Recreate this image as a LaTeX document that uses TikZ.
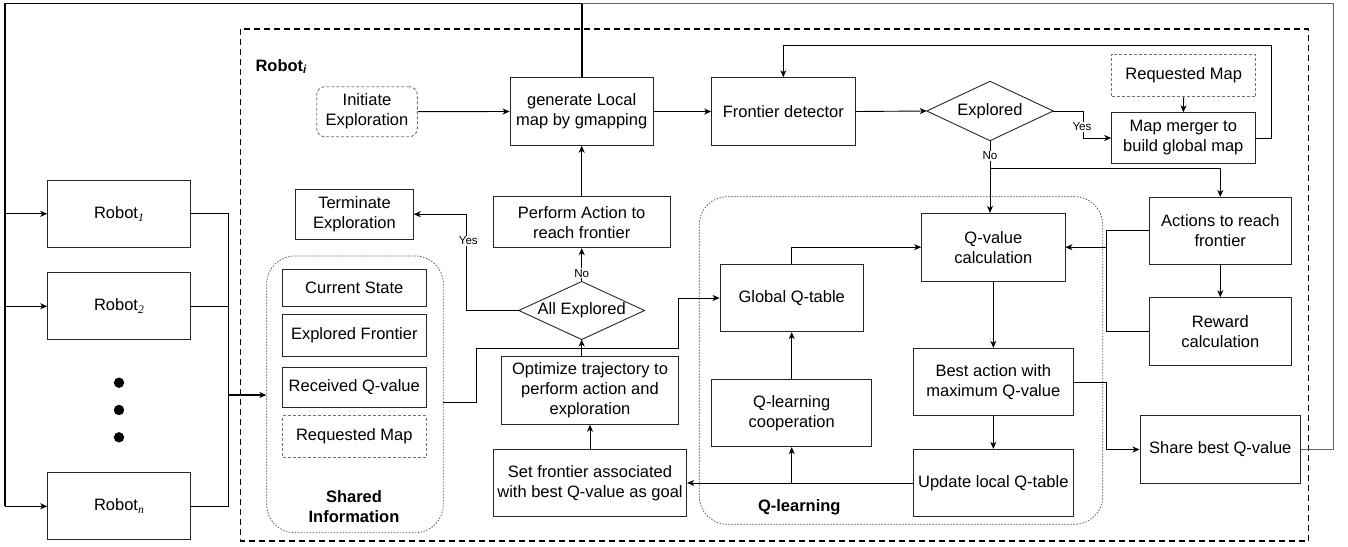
\documentclass[tikz,border=0pt]{standalone}
\usepackage{fontspec}
\setmainfont{Liberation Sans}
\newfontfamily\subserif{Liberation Serif}
\usetikzlibrary{arrows.meta,shapes.geometric,calc}
\tikzset{
  box/.style={draw=black!85, line width=0.9pt, inner sep=1pt, align=center, font=\fontsize{16.5}{20}\selectfont},
  dbox/.style={box, draw=black!55, dash pattern=on 3pt off 2pt},
  dia/.style={inner sep=0pt, align=center, font=\fontsize{16.5}{20}\selectfont},
  diaedge/.style={draw=black!85, line width=0.9pt},
  cont/.style={draw=black!70, line width=0.7pt, dash pattern=on 1.5pt off 1.5pt, rounded corners=28pt},
  conn/.style={line width=0.9pt, black},
  arr/.style={conn, -{Stealth[length=7pt,width=6pt,inset=2pt]}},
  lbl/.style={font=\fontsize{11.6}{13}\selectfont, fill=white, inner sep=1pt},
  ttl/.style={font=\bfseries\fontsize{16.5}{20}\selectfont, align=center},
}
\newcommand{\rsub}[1]{\textsubscript{\subserif\itshape #1}}
\begin{document}
\begin{tikzpicture}[x=1pt,y=-1pt]
\useasboundingbox (0,0) rectangle (1348,546);
% containers
\draw[line width=1.5pt, dash pattern=on 6pt off 4pt] (240.7,29) rectangle (1308.3,541);
\node[anchor=west, font=\bfseries\fontsize{16.5}{20}\selectfont] (rti) at (252,66.7) {Robot\textsubscript{\itshape i}};
\node[cont, minimum width=176.6pt, minimum height=276.7pt] (shared) at (355,394.3) {};
\node[cont, minimum width=403.4pt, minimum height=327.6pt] (qlc) at (901,360.5) {};
\node[ttl] (sharedlbl) at (354,507) {Shared\\Information};
\node[ttl] (qllbl) at (799.3,507.3) {Q-learning};
% robots
\node[box, minimum width=143pt, minimum height=67pt] (r1) at (119.2,213.8) {Robot\rsub{1}};
\node[box, minimum width=143pt, minimum height=67pt] (r2) at (119.2,306.3) {Robot\rsub{2}};
\node[box, minimum width=143pt, minimum height=67pt] (rn) at (119.2,506.3) {Robot\rsub{n}};
\fill (119,382.7) circle (5.2pt) (119,410) circle (5.2pt) (119,437.3) circle (5.2pt);
% nodes
\node[dbox, rounded corners=8pt, minimum width=100.6pt, minimum height=50pt] (init) at (367,111.7) {Initiate\\Exploration};
\node[box, minimum width=143.3pt, minimum height=67.6pt] (gen) at (581.7,111.5) {generate Local\\map by gmapping};
\node[box, minimum width=143.3pt, minimum height=67.6pt] (fd) at (783.3,111.5) {Frontier detector};
\node[dia, minimum width=126pt, minimum height=59pt] (expl) at (990,111) {Explored};
\draw[diaedge] (expl.west) -- (expl.north) -- (expl.east) -- (expl.south) -- cycle;
\node[dbox, minimum width=144pt, minimum height=42.7pt] (req1) at (1183.7,75.3) {Requested Map};
\node[box, minimum width=143.3pt, minimum height=50.6pt] (mm) at (1183.3,138) {Map merger to\\build global map};
\node[box, minimum width=117.6pt, minimum height=50.3pt] (term) at (354.5,214.2) {Terminate\\Exploration};
\node[box, minimum width=176.7pt, minimum height=51pt] (perf) at (581.7,222.2) {Perform Action to\\reach frontier};
\node[dia, minimum width=125.3pt, minimum height=57.6pt] (alld) at (581.7,310.5) {All Explored};
\draw[diaedge] (alld.west) -- (alld.north) -- (alld.east) -- (alld.south) -- cycle;
\node[box, minimum width=176.6pt, minimum height=67.6pt] (opt) at (590,390.5) {Optimize trajectory to\\perform action and\\exploration};
\node[box, minimum width=193.4pt, minimum height=67.4pt] (setf) at (590,483) {Set frontier associated\\with best Q-value as goal};
\node[box, minimum width=143.3pt, minimum height=67.4pt] (gq) at (791.7,298) {Global Q-table};
\node[box, minimum width=160pt, minimum height=67.4pt] (qc) at (791.7,413) {Q-learning\\cooperation};
\node[box, minimum width=143.3pt, minimum height=67.7pt] (qv) at (993.3,247.2) {Q-value\\calculation};
\node[box, minimum width=160pt, minimum height=67.4pt] (best) at (993.3,382) {Best action with\\maximum Q-value};
\node[box, minimum width=160pt, minimum height=67.4pt] (upd) at (993.3,483) {Update local Q-table};
\node[box, minimum width=142.7pt, minimum height=66.7pt] (act) at (1220.3,230.7) {Actions to reach\\frontier};
\node[box, minimum width=142.7pt, minimum height=67.3pt] (rew) at (1220.3,331.3) {Reward\\calculation};
\node[box, minimum width=160.7pt, minimum height=67.6pt] (share) at (1220.3,449.5) {Share best Q-value};
% shared info boxes
\node[box, minimum width=143.3pt, minimum height=37.7pt] (cs) at (354.3,287.8) {Current State};
\node[box, minimum width=143.3pt, minimum height=42pt] (ef) at (354.3,335.7) {Explored Frontier};
\node[box, minimum width=143.3pt, minimum height=40pt] (rq) at (354.3,387.3) {Received Q-value};
\node[dbox, minimum width=143.3pt, minimum height=41.6pt] (req2) at (354.3,436.5) {Requested Map};
% coordinates
\coordinate (topL) at (5,3.5);
\coordinate (topM) at (581.7,3.5);
\coordinate (topR) at (1333.3,3.5);
\coordinate (bus) at (228.3,395);
% connectors
\draw[arr] (init.east) -- (gen.west);
\draw[arr] (gen.east) -- (fd.west);
\draw[arr] (fd.east) -- (expl.west);
\draw[arr] (expl.east) -- ++(30,0) |- (mm.west);
\node[lbl] (yes1) at (1082,127) {Yes};
\draw[arr] (req1.south) -- (mm.north);
\draw[arr] (mm.east) -- ++(16.4,0) |- (783.3,45.7) -- (fd.north);
\draw[arr] (expl.south) -- (expl.south |- qv.north);
\node[lbl] (no1) at (990,156) {No};
\draw[arr] (990,168.3) -| (act.north);
\draw[arr] (act.south) -- (rew.north);
\draw[conn] (act.west) -| (1106.7,331.3) -- (rew.west);
\draw[arr] (1106.7,247.2) -- (qv.east);
\draw[arr] (qv.south) -- (best.north);
\draw[arr] (best.south) -- (upd.north);
\draw[arr] (best.east) -- (1106.7,382) |- (share.west);
\draw[arr] (upd.west) -- (setf.east);
\draw[arr] (791.7,483) -- (qc.south);
\draw[arr] (qc.north) -- (gq.south);
\draw[arr] (gq.north) |- (qv.west);
\draw[arr] (setf.north) -- (opt.south);
\draw[arr] (alld.south |- opt.north) -- (alld.south);
\draw[arr] (alld.north) -- (perf.south);
\node[lbl] (no2) at (581.7,273.3) {No};
\draw[arr] (perf.north) -- (gen.south);
\draw[arr] (alld.west) -- (466,310.5) |- (term.east);
\node[lbl] (yes2) at (468.3,241) {Yes};
\draw[arr] (443.3,402.7) -- (476,402.7) |- (678.3,348.3) |- (gq.west);
% robots bus
\draw[conn] (r1.east) -| (228.3,506.3) -- (rn.east);
\draw[conn] (r2.east) -- (228.3,306.3);
\draw[arr, line width=1.3pt] (bus) -- (shared.west |- bus);
% feedback
\draw[line width=1.8pt] (gen.north) -- (topM) -- (topL) -- (5,506.3);
\draw[arr, line width=1.3pt] (5,213.8) -- (r1.west);
\draw[arr] (5,306.3) -- (r2.west);
\draw[arr] (5,506.3) -- (rn.west);
\draw[line width=1.3pt, black!60] (share.east) -| (topR) -- (topM);
\end{tikzpicture}
\end{document}
